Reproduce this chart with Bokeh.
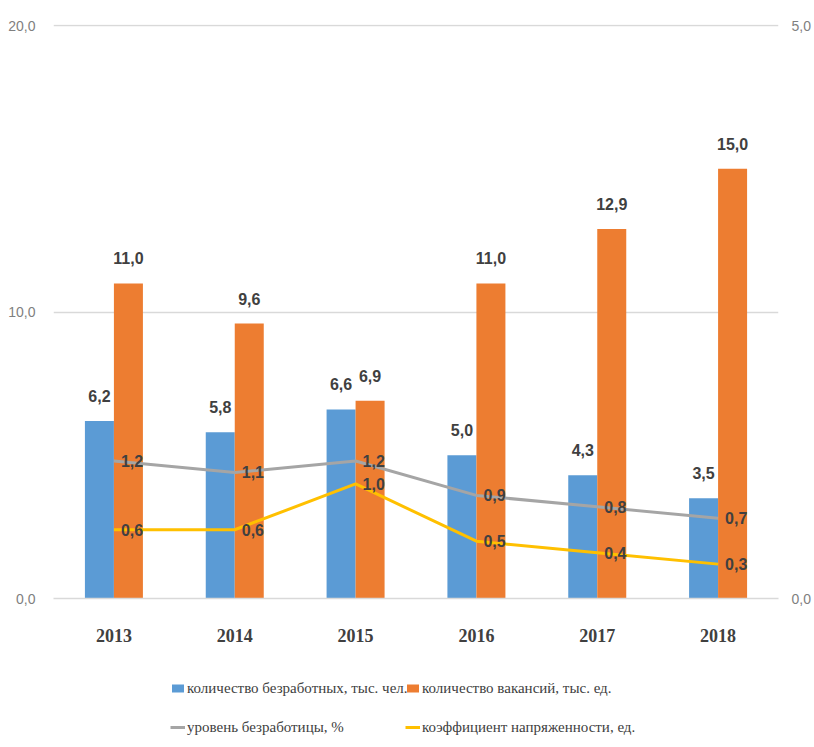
from bokeh.plotting import figure
from bokeh.layouts import column
from bokeh.models import (FactorRange, Range1d, LinearAxis, FixedTicker,
                          Legend, LegendItem, ColumnDataSource)
from bokeh.transform import dodge
from bokeh.core.properties import value
from bokeh.embed import file_html
from bokeh.resources import INLINE

years = ["2013", "2014", "2015", "2016", "2017", "2018"]
unemployed = [6.2, 5.8, 6.6, 5.0, 4.3, 3.5]
vacancies = [11.0, 9.6, 6.9, 11.0, 12.9, 15.0]
unemp_rate = [1.2, 1.1, 1.2, 0.9, 0.8, 0.7]
tension = [0.6, 0.6, 1.0, 0.5, 0.4, 0.3]
left_ticks = [0, 10, 20]
right_ticks = [0, 5]
series_names = ["количество безработных, тыс. чел.",
                "количество вакансий, тыс. ед.",
                "уровень безработицы, %",
                "коэффициент напряженности, ед."]


def fmt(v):
    return f"{v:.1f}".replace(".", ",")


src = ColumnDataSource(dict(
    year=years,
    unemployed=unemployed, vacancies=vacancies,
    rate=unemp_rate, tension=tension,
    l_unemp=[fmt(v) for v in unemployed],
    l_vac=[fmt(v) for v in vacancies],
    l_rate=[fmt(v) for v in unemp_rate],
    l_ten=[fmt(v) for v in tension],
))

BLUE = "#5b9bd5"
ORANGE = "#ed7d31"
GRAY = "#a5a5a5"
YELLOW = "#ffc000"
TXT = "#404040"
SANS = "Liberation Sans"
SERIF = "Liberation Serif"

pad = 1.002  # keep the top gridline inside the frame
p = figure(x_range=FactorRange(factors=years), y_range=Range1d(0, 20 * pad),
           frame_width=725, frame_height=574,
           output_backend="svg", toolbar_location=None,
           min_border_left=53, min_border_right=28, min_border_top=24,
           min_border_bottom=0)
p.extra_y_ranges = {"right": Range1d(0, 5 * pad)}
p.outline_line_color = None
p.background_fill_color = "white"

bw = 0.24


def draw_series(fig, y_range_name="default"):
    rb = fig.vbar(x=dodge("year", -bw / 2, range=fig.x_range), top="unemployed",
                  width=bw, source=src, color=BLUE, line_color=None,
                  y_range_name=y_range_name)
    ro = fig.vbar(x=dodge("year", bw / 2, range=fig.x_range), top="vacancies",
                  width=bw, source=src, color=ORANGE, line_color=None,
                  y_range_name=y_range_name)
    return rb, ro


r_unemp, r_vac = draw_series(p)
r_rate = p.line(x="year", y="rate", source=src, y_range_name="right",
                line_color=GRAY, line_width=3)
r_ten = p.line(x="year", y="tension", source=src, y_range_name="right",
               line_color=YELLOW, line_width=3)

lbl_kw = dict(text_font=value(SANS), text_font_style="bold",
              text_font_size="16px", text_color=TXT)
p.text(x=dodge("year", -bw / 2, range=p.x_range), y="unemployed", text="l_unemp",
       source=src, text_align="center", text_baseline="bottom", y_offset=-19, **lbl_kw)
p.text(x=dodge("year", bw / 2, range=p.x_range), y="vacancies", text="l_vac",
       source=src, text_align="center", text_baseline="bottom", y_offset=-19, **lbl_kw)
p.text(x="year", y="rate", text="l_rate", source=src, y_range_name="right",
       text_align="left", text_baseline="middle", x_offset=7, **lbl_kw)
p.text(x="year", y="tension", text="l_ten", source=src, y_range_name="right",
       text_align="left", text_baseline="middle", x_offset=7, **lbl_kw)

# grid
p.xgrid.grid_line_color = None
p.ygrid.ticker = FixedTicker(ticks=left_ticks)
p.ygrid.grid_line_color = "#d9d9d9"
p.ygrid.grid_line_width = 1.5

# left axis
ya = p.yaxis[0]
ya.ticker = FixedTicker(ticks=left_ticks)
ya.major_label_overrides = {t: fmt(t) for t in left_ticks}
ya.axis_line_color = None
ya.major_tick_line_color = None
ya.minor_tick_line_color = None
ya.major_label_text_color = "#7f7f7f"
ya.major_label_text_font = SANS
ya.major_label_text_font_size = "14px"
ya.major_label_standoff = 12

# right axis
ra = LinearAxis(y_range_name="right", ticker=FixedTicker(ticks=right_ticks))
ra.major_label_overrides = {t: fmt(t) for t in right_ticks}
ra.axis_line_color = None
ra.major_tick_line_color = None
ra.minor_tick_line_color = None
ra.major_label_text_color = "#7f7f7f"
ra.major_label_text_font = SANS
ra.major_label_text_font_size = "14px"
ra.major_label_standoff = 7
p.add_layout(ra, "right")

# x axis
xa = p.xaxis[0]
xa.axis_line_color = "#d9d9d9"
xa.axis_line_width = 1.5
xa.major_tick_line_color = None
xa.minor_tick_line_color = None
xa.major_tick_out = 0
xa.major_label_text_font = SERIF
xa.major_label_text_font_style = "bold"
xa.major_label_text_font_size = "18px"
xa.major_label_text_color = TXT
xa.major_label_standoff = 30

# legend panel: a small figure below the chart holding a 2x2 legend.
# Its series are drawn from the same data but lie outside its visible range,
# so only the legend shows.
lh = 94
q = figure(width=806, height=lh, x_range=p.x_range, y_range=Range1d(100, 101),
           x_axis_type=None, y_axis_type=None, output_backend="svg",
           toolbar_location=None, min_border=0)
q.extra_y_ranges = {"right": Range1d(100, 101)}
q.outline_line_color = None
q.grid.visible = False
d_unemp, d_vac = draw_series(q)
d_rate = q.line(x="year", y="rate", source=src, line_color=GRAY, line_width=3)
d_ten = q.line(x="year", y="tension", source=src, line_color=YELLOW, line_width=3)

legend_specs = [
    (series_names[0], d_unemp, (117, 40)),
    (series_names[1], d_vac, (352, 40)),
    (series_names[2], d_rate, (117, 1)),
    (series_names[3], d_ten, (352, 1)),
]
for label, rend, loc in legend_specs:
    lg = Legend(items=[LegendItem(label=label, renderers=[rend])], location=loc)
    lg.border_line_color = None
    lg.background_fill_alpha = 0
    lg.label_text_font = SERIF
    lg.label_text_font_size = "15px"
    lg.label_text_color = TXT
    lg.glyph_width = 15
    lg.glyph_height = 10
    lg.label_standoff = 2
    lg.label_height = 20
    lg.padding = 0
    lg.margin = 0
    q.add_layout(lg)

open("out.html", "w").write(file_html(column(p, q, spacing=0), INLINE))
